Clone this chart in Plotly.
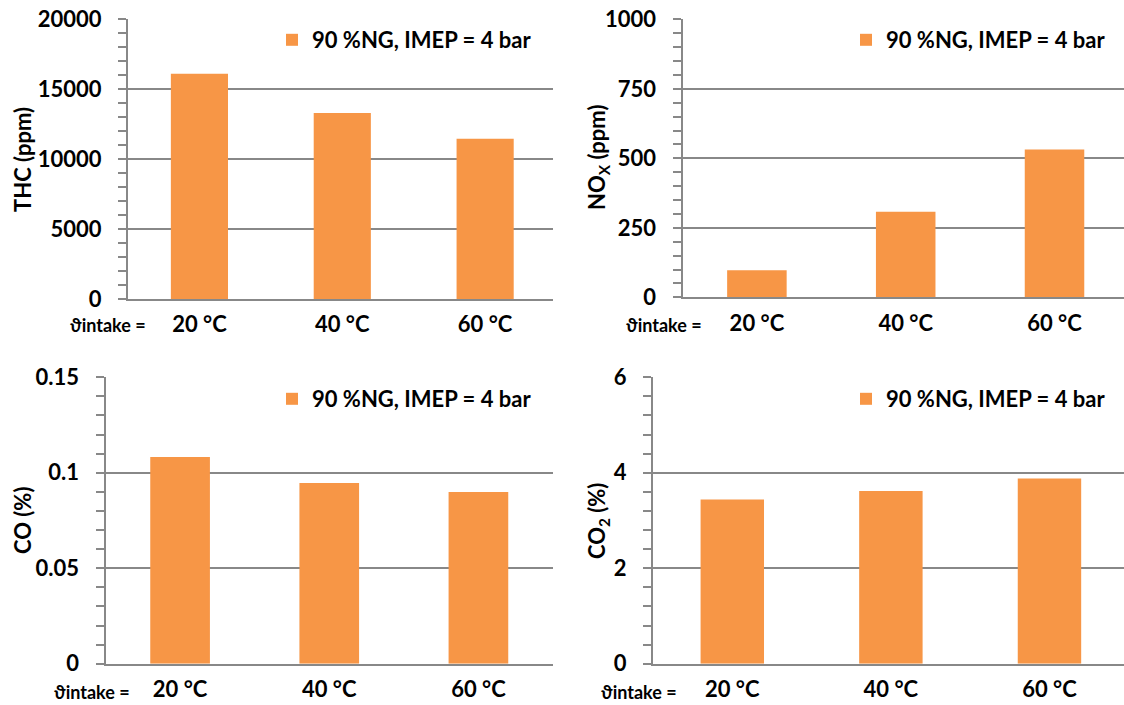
import plotly.graph_objects as go

W, H = 1124, 705
OFF = 0  # page body margin is removed by the post script below

categories = ["20 °C", "40 °C", "60 °C"]
thc_ppm = [16100, 13300, 11450]
nox_ppm = [97, 308, 532]
co_pct = [0.1082, 0.0946, 0.0899]
co2_pct = [3.44, 3.62, 3.88]
series_name = "90 %NG, IMEP = 4 bar"

thc_ticks = [0, 5000, 10000, 15000, 20000]
thc_ticktext = ["0", "5000", "10000", "15000", "20000"]
nox_ticks = [0, 250, 500, 750, 1000]
nox_ticktext = ["0", "250", "500", "750", "1000"]
co_ticks = [0, 0.05, 0.1, 0.15]
co_ticktext = ["0", "0.05", "0.1", "0.15"]
co2_ticks = [0, 2, 4, 6]
co2_ticktext = ["0", "2", "4", "6"]

ORANGE = "#F79646"
GRAY = "#888888"
FONT = "Lato"
FS = 22

def fx(px):
    return (px - OFF) / W

def fy(py):
    return 1 - (py - OFF) / H

panels = [
    dict(vals=thc_ppm, tv=thc_ticks, tt=thc_ticktext, yr=[0, 20000], mdt=1000,
         xd=(128, 553), yd=(19.3, 299), xr=2.475, title="THC (ppm)", tpos=(22, 160),
         leg=(312, 40), lab=(147.5, 325)),
    dict(vals=nox_ppm, tv=nox_ticks, tt=nox_ticktext, yr=[0, 1000], mdt=50,
         xd=(682.5, 1124), yd=(19.3, 297.3), xr=2.467, title="NO<sub>X</sub> (ppm)", tpos=(598, 158),
         leg=(886, 40), lab=(704, 325)),
    dict(vals=co_pct, tv=co_ticks, tt=co_ticktext, yr=[0, 0.15], mdt=0.01,
         xd=(105.5, 553), yd=(377.3, 663.7), xr=2.5, title="CO (%)", tpos=(22, 521),
         leg=(312, 399), lab=(132, 692)),
    dict(vals=co2_pct, tv=co2_ticks, tt=co2_ticktext, yr=[0, 6], mdt=0.4,
         xd=(653, 1124), yd=(377.3, 663.7), xr=2.47, title="CO<sub>2</sub> (%)", tpos=(598, 521),
         leg=(886, 399), lab=(679, 692)),
]

fig = go.Figure()
annotations = []
layout_updates = {}

for i, p in enumerate(panels, start=1):
    sfx = "" if i == 1 else str(i)
    legname = "legend" if i == 1 else f"legend{i}"
    fig.add_trace(go.Bar(
        x=categories, y=p["vals"], name=series_name,
        marker=dict(color=ORANGE, line=dict(width=0)),
        xaxis=f"x{sfx}", yaxis=f"y{sfx}", legend=legname, showlegend=True,
    ))
    layout_updates[f"xaxis{sfx}"] = dict(
        domain=[fx(p["xd"][0]), fx(p["xd"][1])],
        anchor=f"y{sfx}", type="category",
        range=[-0.5, p["xr"]],
        showline=True, linecolor=GRAY, linewidth=2,
        showgrid=False, ticks="", zeroline=False,
        tickfont=dict(family=FONT, size=FS, color="black", weight="bold"),
        ticklabelstandoff=5,
        ticklabeloverflow="allow",
        automargin=False,
        fixedrange=True,
    )
    layout_updates[f"yaxis{sfx}"] = dict(
        domain=[fy(p["yd"][1]), fy(p["yd"][0])],
        anchor=f"x{sfx}", range=p["yr"],
        tickvals=p["tv"], ticktext=p["tt"],
        showline=True, linecolor=GRAY, linewidth=2,
        showgrid=True, gridcolor=GRAY, gridwidth=1.5,
        zeroline=False,
        ticks="outside", ticklen=8, tickcolor=GRAY, tickwidth=1.5,
        minor=dict(dtick=p["mdt"], ticks="outside", ticklen=8, tickcolor=GRAY,
                   tickwidth=1.5, showgrid=False),
        tickfont=dict(family=FONT, size=FS, color="black", weight="bold"),
        ticklabelstandoff=12,
        ticklabeloverflow="allow",
        automargin=False,
        fixedrange=True,
    )
    layout_updates[legname] = dict(
        x=fx(p["leg"][0] - 40), y=fy(p["leg"][1]),
        xanchor="left", yanchor="middle",
        bgcolor="rgba(0,0,0,0)",
        font=dict(family=FONT, size=FS, color="black", weight="bold"),
    )
    annotations.append(dict(
        text=p["title"], x=fx(p["tpos"][0]), y=fy(p["tpos"][1]),
        xref="paper", yref="paper", showarrow=False, textangle=-90,
        xanchor="center", yanchor="middle",
        font=dict(family=FONT, size=FS, color="black", weight="bold"),
    ))
    annotations.append(dict(
        text="ϑintake =", x=fx(p["lab"][0]), y=fy(p["lab"][1]),
        xref="paper", yref="paper", showarrow=False,
        xanchor="right", yanchor="middle",
        font=dict(family=FONT, size=18, color="black", weight="bold"),
    ))

fig.update_layout(
    width=W, height=H,
    margin=dict(l=0, r=0, t=0, b=0, pad=0, autoexpand=False),
    paper_bgcolor="white", plot_bgcolor="white",
    bargap=0.6,
    annotations=annotations,
    font=dict(family=FONT, color="black"),
    **layout_updates,
)

fig.write_html(
    "out.html",
    config={"responsive": False, "displayModeBar": False},
    post_script="document.body.style.margin='0';document.body.style.overflow='hidden';",
)
